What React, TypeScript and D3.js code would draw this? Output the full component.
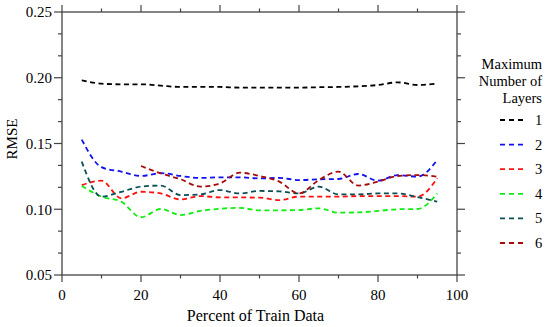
import { useEffect, useRef } from "react";
import * as d3 from "d3";

const percents = [5, 10, 15, 20, 25, 30, 35, 40, 45, 50, 55, 60, 65, 70, 75, 80, 85, 90, 95];

const layers1 = [0.198, 0.1955, 0.195, 0.195, 0.194, 0.193, 0.193, 0.193, 0.1925, 0.1925, 0.1925, 0.1925, 0.1928, 0.193, 0.1935, 0.1945, 0.1965, 0.1945, 0.1955];
const layers2 = [0.153, 0.132, 0.1286, 0.1253, 0.1275, 0.1253, 0.1238, 0.1243, 0.1243, 0.1235, 0.1238, 0.1222, 0.1228, 0.123, 0.1268, 0.1217, 0.126, 0.1248, 0.1375];
const layers3 = [0.1184, 0.1217, 0.1083, 0.1133, 0.112, 0.1075, 0.11, 0.109, 0.109, 0.1088, 0.107, 0.1096, 0.1096, 0.1096, 0.11, 0.11, 0.11, 0.1096, 0.1235];
const layers4 = [0.1177, 0.1096, 0.1058, 0.0939, 0.1002, 0.0956, 0.0987, 0.1004, 0.101, 0.0992, 0.0992, 0.0994, 0.1007, 0.0974, 0.0976, 0.0987, 0.1, 0.1002, 0.112];
const layers5 = [0.1362, 0.1096, 0.1133, 0.1172, 0.118, 0.1108, 0.1113, 0.1146, 0.112, 0.1139, 0.1136, 0.112, 0.1172, 0.1113, 0.1113, 0.112, 0.112, 0.1092, 0.1058];
const layers6 = [null, null, null, 0.1329, 0.1273, 0.1228, 0.1172, 0.1197, 0.1278, 0.1253, 0.121, 0.112, 0.1222, 0.1286, 0.118, 0.121, 0.1253, 0.126, 0.1248];

const seriesNames = ["1", "2", "3", "4", "5", "6"];
const seriesColors = ["#000000", "#1010f0", "#ff1010", "#10ee10", "#0a4f55", "#a80a0a"];
const seriesValues = [layers1, layers2, layers3, layers4, layers5, layers6];

const yTicks = [0.05, 0.1, 0.15, 0.2, 0.25];
const xTicks = [0, 20, 40, 60, 80, 100];

const FONT = "'Liberation Serif', 'DejaVu Serif', 'Times New Roman', Times, serif";

export default function App() {
  const svgRef = useRef<SVGSVGElement>(null);

  useEffect(() => {
    const svg = d3.select(svgRef.current);
    svg.selectAll("*").remove();

    const left = 62, right = 457, top = 12, bottom = 275;
    const axisColor = "#444";

    const x = d3.scaleLinear().domain([0, 100]).range([left, right]);
    const y = d3.scaleLinear().domain([0.05, 0.25]).range([bottom, top]);

    // frame
    svg.append("rect")
      .attr("x", left).attr("y", top)
      .attr("width", right - left).attr("height", bottom - top)
      .attr("fill", "none").attr("stroke", axisColor).attr("stroke-width", 1.3);

    const minorY: number[] = [];
    for (let i = 0; i < yTicks.length - 1; i++) {
      for (let k = 1; k < 3; k++) minorY.push(yTicks[i] + (k * 0.05) / 3);
    }
    const minorX = [10, 30, 50, 70, 90];

    const ticks = svg.append("g").attr("stroke", axisColor).attr("stroke-width", 1.2);
    const addY = (vals: number[], len: number) => {
      vals.forEach((v) => {
        ticks.append("line").attr("x1", left - len).attr("x2", left).attr("y1", y(v)).attr("y2", y(v));
        ticks.append("line").attr("x1", right).attr("x2", right + len).attr("y1", y(v)).attr("y2", y(v));
      });
    };
    const addX = (vals: number[], len: number) => {
      vals.forEach((v) => {
        ticks.append("line").attr("x1", x(v)).attr("x2", x(v)).attr("y1", bottom).attr("y2", bottom + len);
        ticks.append("line").attr("x1", x(v)).attr("x2", x(v)).attr("y1", top - len).attr("y2", top);
      });
    };
    addY(yTicks, 8);
    addY(minorY, 4);
    addX(xTicks, 7);
    addX(minorX, 3.5);

    const txt = svg.append("g").style("font-family", FONT);

    // tick labels
    txt.append("g").selectAll("text").data(yTicks).join("text")
      .attr("x", left - 10).attr("y", (d) => y(d)).attr("dy", "0.35em")
      .attr("text-anchor", "end").style("font-size", "15px")
      .text((d) => d.toFixed(2));

    txt.append("g").selectAll("text").data(xTicks).join("text")
      .attr("x", (d) => x(d)).attr("y", 300)
      .attr("text-anchor", "middle").style("font-size", "15px")
      .text((d) => String(d));

    // axis titles
    txt.append("text")
      .attr("x", (left + right) / 2 - 4).attr("y", 321)
      .attr("text-anchor", "middle").style("font-size", "16px")
      .text("Percent of Train Data");

    txt.append("text")
      .attr("transform", `translate(17,139) rotate(-90)`)
      .attr("text-anchor", "middle").style("font-size", "15px")
      .text("RMSE");

    // lines
    const line = d3.line<[number, number | null]>()
      .defined((d) => d[1] !== null)
      .x((d) => x(d[0]))
      .y((d) => y(d[1] as number))
      .curve(d3.curveMonotoneX);

    seriesValues.forEach((vals, i) => {
      const pts = percents.map((p, j) => [p, vals[j]] as [number, number | null]);
      svg.append("path")
        .attr("d", line(pts) || "")
        .attr("fill", "none")
        .attr("stroke", seriesColors[i])
        .attr("stroke-width", 1.8)
        .attr("stroke-dasharray", "5,3.5");
    });

    // legend
    const legendTitle = ["Maximum", "Number of", "Layers"];
    txt.append("g").selectAll("text").data(legendTitle).join("text")
      .attr("x", 542).attr("y", (_, i) => 69 + i * 17)
      .attr("text-anchor", "end").style("font-size", "14.5px")
      .text((d) => d);

    const legendY = d3.scalePoint<string>().domain(seriesNames).range([120, 243]);
    const lg = svg.append("g");
    seriesNames.forEach((name, i) => {
      const yy = legendY(name) as number;
      lg.append("line")
        .attr("x1", 500).attr("x2", 523).attr("y1", yy).attr("y2", yy)
        .attr("stroke", seriesColors[i]).attr("stroke-width", 1.8)
        .attr("stroke-dasharray", "5,4");
      txt.append("text")
        .attr("x", 535).attr("y", yy).attr("dy", "0.35em")
        .style("font-size", "14.5px")
        .text(name);
    });
  }, []);

  return (
    <div style={{ position: "absolute", left: 0, top: 0 }}>
      <svg ref={svgRef} width={550} height={327} style={{ display: "block", background: "#fff" }} />
    </div>
  );
}
